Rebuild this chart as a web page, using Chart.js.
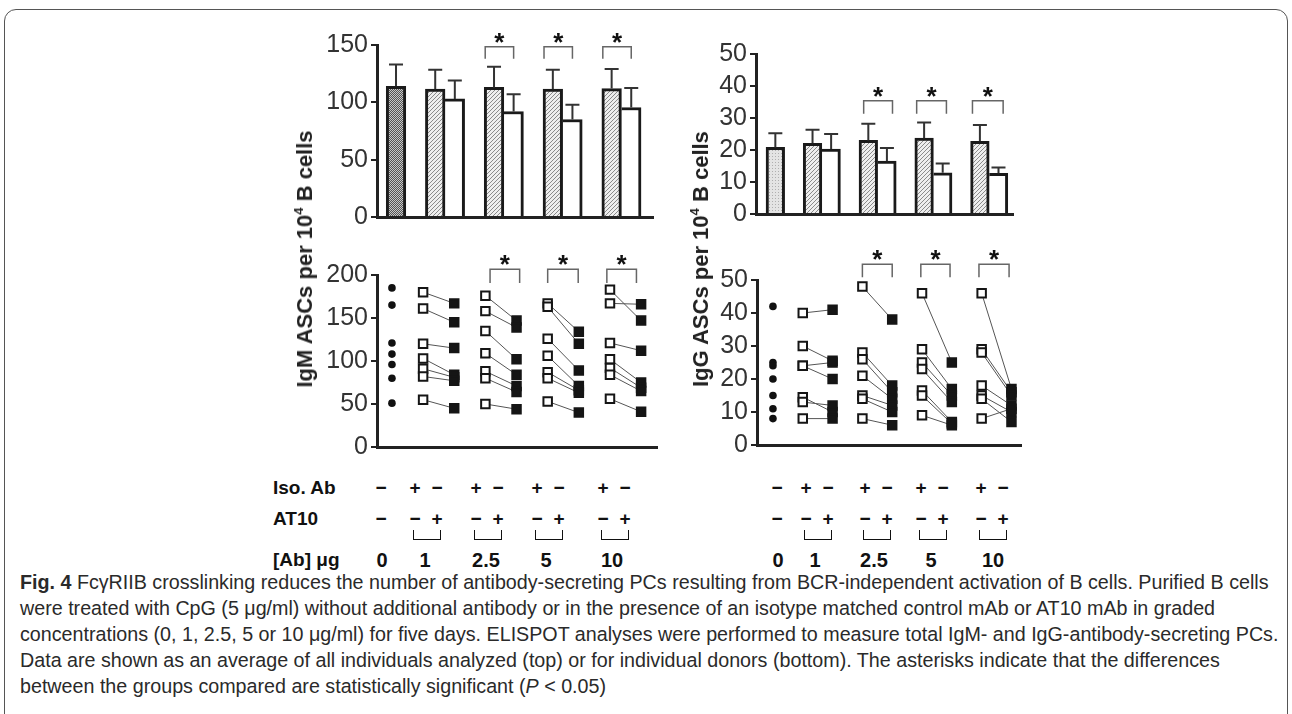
<!DOCTYPE html>
<html>
<head>
<meta charset="utf-8">
<script src="https://cdn.jsdelivr.net/npm/chart.js@4.4.0/dist/chart.umd.min.js"></script>
<style>
  body { margin: 0; width: 1292px; height: 714px; overflow: hidden; position: relative; background: #fff;
         font-family: "Liberation Sans", Arial, sans-serif; }
  .frame { position: absolute; left: 4px; top: 9px; width: 1282px; height: 730px;
           border: 1.5px solid #555; border-radius: 12px; }
  .box { position: absolute; }
  .ylab { position: absolute; font-weight: bold; font-size: 22px; color: #222; white-space: nowrap;
          transform: translate(-50%, -50%) rotate(-90deg); }
  .ylab sup { font-size: 13px; vertical-align: 9px; line-height: 0; }
  .ann { position: absolute; font-weight: bold; color: #111; white-space: nowrap; transform: translate(-50%, -50%); }
  .rowlab { position: absolute; font-weight: bold; font-size: 19px; color: #111; transform: translateY(-50%); }
  .sign { font-size: 19px; }
  .dose { font-family: "Liberation Sans Narrow", "Liberation Sans", sans-serif; font-size: 20px; }
  .cup { position: absolute; border: 1.5px solid #111; border-top: none; height: 9px; }
  .caption { position: absolute; left: 20px; top: 569px; font-family: "Liberation Sans Narrow", sans-serif;
             font-size: 19.7px; line-height: 26px; color: #2a2a2a; white-space: nowrap; }
</style>
</head>
<body>
<div class="frame"></div>

<div class="box" style="left:317px;top:20px"><canvas id="igmBars" width="343" height="215"></canvas></div>
<div class="box" style="left:317px;top:245px"><canvas id="igmDonors" width="348" height="220"></canvas></div>
<div class="box" style="left:696px;top:20px"><canvas id="iggBars" width="324" height="212"></canvas></div>
<div class="box" style="left:697px;top:245px"><canvas id="iggDonors" width="332" height="218"></canvas></div>

<div class="ylab" style="left:305px;top:259px">IgM ASCs per 10<sup>4</sup> B cells</div>
<div class="ylab" style="left:701px;top:259px">IgG ASCs per 10<sup>4</sup> B cells</div>

<div id="annot"></div>

<div class="caption">
<b>Fig. 4</b> FcγRIIB crosslinking reduces the number of antibody-secreting PCs resulting from BCR-independent activation of B cells. Purified B cells<br>
were treated with CpG (5 μg/ml) without additional antibody or in the presence of an isotype matched control mAb or AT10 mAb in graded<br>
concentrations (0, 1, 2.5, 5 or 10 μg/ml) for five days. ELISPOT analyses were performed to measure total IgM- and IgG-antibody-secreting PCs.<br>
Data are shown as an average of all individuals analyzed (top) or for individual donors (bottom). The asterisks indicate that the differences<br>
between the groups compared are statistically significant (<i>P</i> &lt; 0.05)
</div>

<script>
// ------------------------------------------------------------------
// Data
// ------------------------------------------------------------------
const doses = ['0', '1', '2.5', '5', '10'];
const isoAbSigns = ['−', '+', '−', '+', '−', '+', '−', '+', '−'];
const at10Signs = ['−', '−', '+', '−', '+', '−', '+', '−', '+'];

// top: means with upper error (SEM)
const igmCtrlMean = [114];
const igmCtrlErr = [19];
const igmIsoMean = [111.5, 113, 111.5, 112];
const igmIsoErr = [17, 18, 17, 17];
const igmAt10Mean = [103, 92, 85, 95.5];
const igmAt10Err = [16, 15, 13, 17];

const iggCtrlMean = [20.8];
const iggCtrlErr = [4.4];
const iggIsoMean = [22.1, 23, 23.7, 22.7];
const iggIsoErr = [4.2, 5.2, 4.9, 5.1];
const iggAt10Mean = [20.3, 16.5, 12.9, 12.7];
const iggAt10Err = [4.7, 4.1, 2.9, 1.8];

// bottom: individual donors (iso → AT10 pairs per dose)
const igmCtrlDonors = [185, 165, 121, 108, 96, 80, 51];
const igmIsoDonors = [
  [180, 161, 120, 103, 91, 82, 55],
  [176, 158, 135, 109, 88, 80, 50],
  [167, 163, 126, 106, 87, 80, 53],
  [183, 167, 121, 102, 92, 84, 56],
];
const igmAt10Donors = [
  [167, 145, 115, 84, 81, 77, 45],
  [147, 139, 102, 84, 71, 64, 44],
  [134, 120, 89, 71, 66, 63, 40],
  [147, 166, 112, 75, 69, 65, 41],
];

const iggCtrlDonors = [42, 25, 24, 20, 15, 11, 8];
const iggIsoDonors = [
  [40, 30, 24, 24, 14.5, 13, 8],
  [48, 28, 26, 21, 15, 14, 8],
  [46, 29, 25, 23, 16.5, 15, 9],
  [46, 29, 28, 18, 15, 14, 8],
];
const iggAt10Donors = [
  [41, 25.5, 25, 20, 10, 12, 8],
  [38, 18, 16, 14, 12, 10, 6],
  [25, 17, 15, 13, 7, 6.5, 6],
  [17, 16, 15, 12, 10, 7, 11],
];

// ------------------------------------------------------------------
// Fill patterns
// ------------------------------------------------------------------
function makePattern(size, draw) {
  const c = document.createElement('canvas');
  c.width = size; c.height = size;
  draw(c.getContext('2d'), size);
  return document.createElement('canvas').getContext('2d').createPattern(c, 'repeat');
}
const patHatch = makePattern(4, (g, s) => {
  g.fillStyle = '#eeeeee'; g.fillRect(0, 0, s, s);
  g.strokeStyle = '#8a8a8a'; g.lineWidth = 1;
  g.beginPath(); g.moveTo(0, s); g.lineTo(s, 0); g.moveTo(-1, 1); g.lineTo(1, -1); g.moveTo(s - 1, s + 1); g.lineTo(s + 1, s - 1); g.stroke();
});
const patChecker = makePattern(2, (g) => {
  g.fillStyle = '#c8c8c8'; g.fillRect(0, 0, 2, 2);
  g.fillStyle = '#555'; g.fillRect(0, 0, 1, 1); g.fillRect(1, 1, 1, 1);
});
const patStipple = makePattern(3, (g) => {
  g.fillStyle = '#e4e4e4'; g.fillRect(0, 0, 3, 3);
  g.fillStyle = '#b0b0b0'; g.fillRect(1, 1, 1, 1);
});

// ------------------------------------------------------------------
// Plugins
// ------------------------------------------------------------------
const errorBars = {
  id: 'errorBars',
  afterDatasetsDraw(chart) {
    const { ctx } = chart;
    const y = chart.scales.y;
    ctx.save();
    ctx.strokeStyle = '#333';
    ctx.lineWidth = 2;
    chart.data.datasets.forEach((ds, di) => {
      chart.getDatasetMeta(di).data.forEach((bar, i) => {
        const top = y.getPixelForValue(ds.data[i].y + ds.errors[i]);
        ctx.beginPath();
        ctx.moveTo(bar.x, bar.y);
        ctx.lineTo(bar.x, top);
        ctx.moveTo(bar.x - 7, top);
        ctx.lineTo(bar.x + 7, top);
        ctx.stroke();
      });
    });
    ctx.restore();
  },
};

// brackets: [xLeft, xRight, yTop, yLegs] in data units
function sigBrackets(items) {
  return {
    id: 'sigBrackets',
    afterDraw(chart) {
      const { ctx } = chart;
      const { x, y } = chart.scales;
      ctx.save();
      items.forEach((b) => {
        const x0 = x.getPixelForValue(b[0]), x1 = x.getPixelForValue(b[1]);
        const yt = y.getPixelForValue(b[2]), yb = y.getPixelForValue(b[3]);
        ctx.strokeStyle = '#666';
        ctx.lineWidth = 1.5;
        ctx.beginPath();
        ctx.moveTo(x0, yb); ctx.lineTo(x0, yt); ctx.lineTo(x1, yt); ctx.lineTo(x1, yb);
        ctx.stroke();
        ctx.fillStyle = '#111';
        ctx.font = 'bold 26px "Liberation Sans"';
        ctx.textAlign = 'center';
        ctx.textBaseline = 'alphabetic';
        ctx.fillText('*', (x0 + x1) / 2, yt + 4);
      });
      ctx.restore();
    },
  };
}

// ------------------------------------------------------------------
// Shared axis builders
// ------------------------------------------------------------------
function yAxis(max, step) {
  return {
    min: 0, max,
    afterFit: (s) => { s.width = 60; },
    ticks: { stepSize: step, color: '#333', padding: 3, font: { size: 25, family: 'Liberation Sans' } },
    grid: { drawOnChartArea: false, drawTicks: true, tickLength: 6, color: '#222', lineWidth: 2 },
    border: { display: true, color: '#222', width: 3 },
  };
}
function xAxis(min, max) {
  return {
    type: 'linear', min, max, offset: false,
    afterFit: (s) => { s.height = 0; },
    afterBuildTicks: (s) => { s.ticks = []; },
    ticks: { display: false },
    grid: { display: false, offset: false },
    border: { display: true, color: '#222', width: 3 },
  };
}
const baseOpts = (padding, x, y) => ({
  responsive: false,
  animation: false,
  events: [],
  layout: { padding },
  plugins: { legend: { display: false }, tooltip: { enabled: false } },
  scales: { x, y },
});

// ------------------------------------------------------------------
// Bar charts (averages) — slot layout: ctrl at 0, then iso/AT10 pairs
// ------------------------------------------------------------------
function barCharts(canvasId, ctrlMean, ctrlErr, ctrlFill, isoMean, isoErr, at10Mean, at10Err, xr, ymax, ystep, pad, brackets) {
  const bw = 3;
  const common = { grouped: false, barPercentage: 1, categoryPercentage: 1, borderColor: '#1a1a1a' };
  new Chart(document.getElementById(canvasId), {
    type: 'bar',
    data: {
      datasets: [
        { ...common, data: ctrlMean.map((v) => ({ x: 0, y: v })), errors: ctrlErr,
          backgroundColor: ctrlFill, borderWidth: { top: bw, left: bw, right: bw, bottom: 0 } },
        { ...common, data: isoMean.map((v, g) => ({ x: 3 * g + 2, y: v })), errors: isoErr,
          backgroundColor: patHatch, borderWidth: { top: bw, left: bw, right: bw, bottom: 0 } },
        { ...common, data: at10Mean.map((v, g) => ({ x: 3 * g + 3, y: v })), errors: at10Err,
          backgroundColor: '#ffffff', borderWidth: { top: bw, left: 0, right: bw, bottom: 0 } },
      ],
    },
    options: baseOpts(pad, xAxis(xr[0], xr[1]), yAxis(ymax, ystep)),
    plugins: [errorBars, sigBrackets(brackets)],
  });
}

barCharts('igmBars', igmCtrlMean, igmCtrlErr, patChecker, igmIsoMean, igmIsoErr, igmAt10Mean, igmAt10Err,
  [-0.97, 13.11], 150, 50, { top: 25, right: 7, bottom: 4, left: 0 },
  [[4.55, 6], [7.55, 9], [10.55, 12]].map((b) => [b[0], b[1], 148.4, 138]));

barCharts('iggBars', iggCtrlMean, iggCtrlErr, patStipple, iggIsoMean, iggIsoErr, iggAt10Mean, iggAt10Err,
  [-1.04, 12.78], 50, 10, { top: 34, right: 7, bottom: 4, left: 0 },
  [[4.75, 6.3], [7.6, 9.2], [10.6, 12.25]].map((b) => [b[0], b[1], 35.4, 31.3]));

// ------------------------------------------------------------------
// Donor charts — ctrl dots at 0, then iso (open) / AT10 (filled) pairs
// ------------------------------------------------------------------
function donorChart(canvasId, ctrl, iso, at10, xr, ymax, ystep, pad, brackets) {
  const datasets = [{
    type: 'scatter',
    data: ctrl.map((v) => ({ x: 0, y: v })),
    pointStyle: 'circle', pointRadius: 3.8, pointBackgroundColor: '#111', pointBorderWidth: 0,
  }];
  iso.forEach((vals, g) => {
    const pts = [];
    vals.forEach((v, i) => {
      pts.push({ x: 2 * g + 1, y: v }, { x: 2 * g + 2, y: at10[g][i] }, { x: 2 * g + 2, y: null });
    });
    datasets.push({
      type: 'line',
      data: pts,
      showLine: true, spanGaps: false, tension: 0,
      borderColor: '#555', borderWidth: 1,
      pointStyle: 'rect',
      pointRadius: (c) => (c.dataIndex % 3 === 2 ? 0 : 6),
      pointBorderWidth: 2,
      pointBorderColor: '#151515',
      pointBackgroundColor: (c) => (c.dataIndex % 3 === 0 ? '#ffffff' : '#151515'),
    });
  });
  new Chart(document.getElementById(canvasId), {
    type: 'line',
    data: { datasets },
    options: baseOpts(pad, xAxis(xr[0], xr[1]), yAxis(ymax, ystep)),
    plugins: [sigBrackets(brackets)],
  });
}

donorChart('igmDonors', igmCtrlDonors, igmIsoDonors, igmAt10Donors,
  [-0.48, 8.51], 200, 50, { top: 30, right: 7, bottom: 4, left: 0 },
  [[3.15, 4.1], [5.0, 5.98], [6.9, 7.85]].map((b) => [b[0], b[1], 206.7, 190.8]));

donorChart('iggDonors', iggCtrlDonors, iggIsoDonors, iggAt10Donors,
  [-0.535, 8.32], 50, 10, { top: 35, right: 7, bottom: 4, left: 0 },
  [[3.0, 4.0], [4.96, 5.94], [6.91, 7.92]].map((b) => [b[0], b[1], 54.8, 50.8]));

// ------------------------------------------------------------------
// Treatment rows under the panels
// ------------------------------------------------------------------
(function () {
  const host = document.getElementById('annot');
  const rows = { iso: 488, at10: 519, dose: 560 };
  const panels = [
    { cols: [381, 415, 437, 476, 498, 537, 559, 603, 625], doseX: [382, 425, 486, 546, 612] },
    { cols: [777, 806, 828, 865, 887, 921, 943, 981, 1003], doseX: [778, 815, 874, 931, 993] },
  ];
  let html = '';
  html += `<div class="rowlab" style="left:273px;top:${rows.iso}px">Iso. Ab</div>`;
  html += `<div class="rowlab" style="left:273px;top:${rows.at10}px">AT10</div>`;
  html += `<div class="rowlab" style="left:273px;top:${rows.dose}px">[Ab] μg</div>`;
  panels.forEach((p) => {
    isoAbSigns.forEach((s, i) => {
      html += `<div class="ann sign" style="left:${p.cols[i]}px;top:${rows.iso}px">${s}</div>`;
    });
    at10Signs.forEach((s, i) => {
      html += `<div class="ann sign" style="left:${p.cols[i]}px;top:${rows.at10}px">${s}</div>`;
    });
    for (let g = 0; g < 4; g++) {
      const a = p.cols[2 * g + 1] - 2, b = p.cols[2 * g + 2] + 2;
      html += `<div class="cup" style="left:${a}px;top:530px;width:${b - a}px"></div>`;
    }
    doses.forEach((d, i) => {
      html += `<div class="ann dose" style="left:${p.doseX[i]}px;top:${rows.dose}px">${d}</div>`;
    });
  });
  host.innerHTML = html;
})();
</script>
</body>
</html>
